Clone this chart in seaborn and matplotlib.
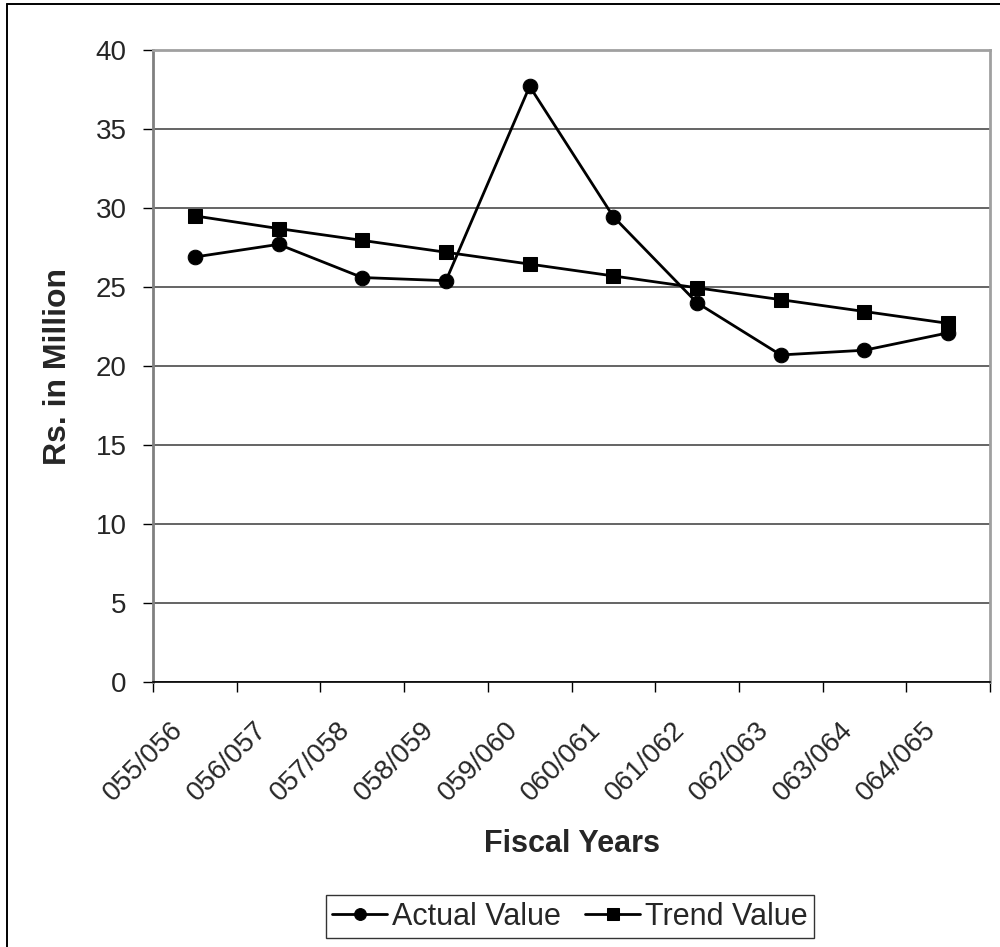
import matplotlib
matplotlib.use("Agg")
import matplotlib.pyplot as plt
from matplotlib.lines import Line2D
from matplotlib.ticker import FixedLocator, MultipleLocator
import pandas as pd
import seaborn as sns

# Fiscal years and the two series (Rs. in million)
years = ["055/056", "056/057", "057/058", "058/059", "059/060",
         "060/061", "061/062", "062/063", "063/064", "064/065"]
actual_value = [26.9, 27.7, 25.6, 25.4, 37.7, 29.45, 24.0, 20.7, 21.0, 22.1]
trend_value = [29.5, 28.7, 27.95, 27.2, 26.45, 25.7, 24.95, 24.2, 23.45, 22.7]

sns.set_theme(style="white")
plt.rcParams["font.family"] = ["Liberation Sans", "DejaVu Sans"]

df = pd.DataFrame({"year": years, "Actual Value": actual_value,
                   "Trend Value": trend_value})

fig = plt.figure(figsize=(10, 9.47), dpi=100)
ax = fig.add_axes([0.153, 0.2798, 0.837, 0.6674])

sns.lineplot(data=df, x="year", y="Actual Value", ax=ax, color="black",
             marker="o", markersize=10.5, linewidth=2, markeredgecolor="black",
             label="Actual Value", sort=False)
sns.lineplot(data=df, x="year", y="Trend Value", ax=ax, color="black",
             marker="s", markersize=10, linewidth=2, markeredgecolor="black",
             label="Trend Value", sort=False)

n = len(years)
ax.set_xlim(-0.5, n - 0.5)
ax.set_ylim(0, 40)
ax.yaxis.set_major_locator(MultipleLocator(5))
ax.yaxis.grid(True, color="#3a3a3a", linewidth=1.1)
ax.set_axisbelow(True)

# rotated category labels end just left of each category centre;
# tick marks sit on the category boundaries
label_offset = 0.3
ax.xaxis.set_major_locator(FixedLocator([i - label_offset for i in range(n)]))
ax.set_xticklabels(years, rotation=45, ha="right", va="top",
                   rotation_mode="anchor", fontsize=20)
ax.xaxis.set_minor_locator(FixedLocator([i - 0.5 for i in range(n + 1)]))
ax.tick_params(axis="x", which="major", length=0, pad=25)
ax.tick_params(axis="x", which="minor", length=7, width=1, color="black",
               bottom=True)
ax.tick_params(axis="y", which="major", length=7, width=1, color="black",
               left=True, labelsize=20, pad=12)

ax.set_xlabel("Fiscal Years", fontsize=22, fontweight="bold", labelpad=16)
ax.set_ylabel("Rs. in Million", fontsize=23, fontweight="bold", labelpad=16)

for side in ("top", "right"):
    ax.spines[side].set_color("#a0a0a0")
    ax.spines[side].set_linewidth(2)
ax.spines["left"].set_color("#808080")
ax.spines["left"].set_linewidth(2)
ax.spines["bottom"].set_color("black")
ax.spines["bottom"].set_linewidth(1.2)

leg = ax.legend(loc="center", bbox_to_anchor=(0.570, 0.0322),
                bbox_transform=fig.transFigure, ncol=2, fontsize=22,
                frameon=True, fancybox=False, handlelength=1.8,
                handletextpad=0.15, columnspacing=0.8, borderpad=0.2,
                borderaxespad=0)
leg.get_frame().set_edgecolor("black")
leg.get_frame().set_linewidth(1)
for h in leg.legend_handles:
    h.set_markersize(8.5)

# outer chart border (left and top edges)
fig.add_artist(Line2D([0.007, 0.007], [0, 0.996], transform=fig.transFigure,
                      color="black", linewidth=1.4))
fig.add_artist(Line2D([0.007, 1.0], [0.996, 0.996], transform=fig.transFigure,
                      color="black", linewidth=1.4))

fig.savefig("out.png", dpi=100)
